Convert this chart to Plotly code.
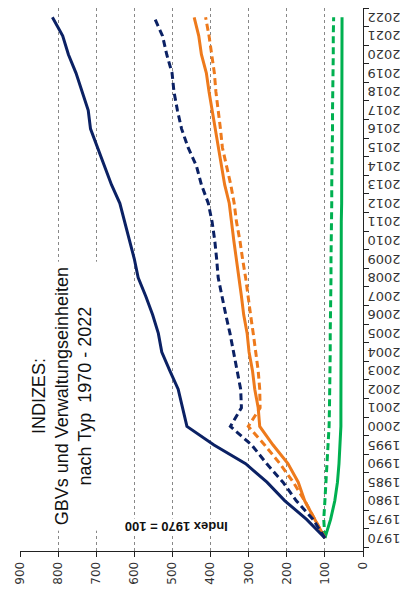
import plotly.graph_objects as go

years = ["1970", "1975", "1980", "1985", "1990", "1995", "2000", "2001", "2002", "2003",
         "2004", "2005", "2006", "2007", "2008", "2009", "2010", "2011", "2012", "2013",
         "2014", "2015", "2016", "2017", "2018", "2019", "2020", "2021", "2022"]

navy_solid = [100, 148, 205, 252, 308, 391, 462, 473, 485, 507, 528, 537, 552, 570, 590,
              600, 612, 625, 638, 660, 679, 697, 715, 721, 738, 753, 773, 788, 815]
navy_dashed = [100, 131, 175, 210, 253, 292, 348, 319, 321, 330, 338, 349, 360, 371, 380,
               384, 389, 396, 406, 424, 437, 459, 476, 487, 496, 501, 515, 526, 548]
orange_solid = [100, 127, 153, 170, 197, 236, 271, 275, 284, 290, 299, 304, 313, 319, 326,
                332, 339, 345, 351, 363, 371, 380, 389, 397, 404, 411, 424, 431, 443]
orange_dashed = [100, 127, 153, 183, 218, 258, 301, 270, 271, 275, 281, 288, 295, 301, 308,
                 316, 323, 332, 338, 347, 358, 369, 374, 380, 386, 390, 397, 404, 413]
green_solid = [100, 85, 74, 67, 63, 60, 58, 58, 58, 58, 57, 57, 57, 57, 57,
               57, 57, 57, 56, 56, 56, 56, 56, 56, 56, 55, 55, 55, 55]
green_dashed = [100, 103, 100, 97, 94, 92, 89, 88, 87, 87, 86, 86, 85, 85, 84,
                84, 83, 83, 82, 82, 81, 81, 80, 80, 79, 79, 78, 78, 77]

value_ticks = [0, 100, 200, 300, 400, 500, 600, 700, 800, 900]

NAVY = "#0B2164"
ORANGE = "#EE7A1C"
GREEN = "#00B050"

series = [
    (green_solid, GREEN, "solid"),
    (green_dashed, GREEN, "7px,4px"),
    (orange_solid, ORANGE, "solid"),
    (orange_dashed, ORANGE, "7px,4px"),
    (navy_dashed, NAVY, "7px,4px"),
    (navy_solid, NAVY, "solid"),
]

fig = go.Figure()
for vals, col, dash in series:
    fig.add_trace(go.Scatter(
        x=vals, y=years, mode="lines",
        line=dict(color=col, width=3, dash=dash),
        showlegend=False, hoverinfo="skip",
    ))

fig.update_layout(
    width=408, height=590,
    margin=dict(l=12, r=53, t=0, b=47),
    paper_bgcolor="white", plot_bgcolor="white",
    font=dict(family="DejaVu Sans", color="#222"),
    xaxis=dict(
        range=[900, 0], tickvals=value_ticks, ticktext=[str(v) for v in value_ticks],
        tickangle=-90, tickfont=dict(size=12, family="DejaVu Sans", color="#333"),
        showgrid=True, gridcolor="#888", griddash="dot", gridwidth=1,
        showline=True, linecolor="#222", linewidth=1,
        ticks="outside", ticklen=5, tickcolor="#222", zeroline=False,
        automargin=False,
    ),
    yaxis=dict(
        type="category", categoryorder="array", categoryarray=years,
        range=[-0.7, 28.5], side="right",
        tickangle=180, tickfont=dict(size=13, family="DejaVu Sans", color="#333"),
        showgrid=False, showline=True, linecolor="#222", linewidth=1,
        ticks="outside", ticklen=5, tickcolor="#222", tickson="boundaries",
        ticklabelstandoff=34, ticklabelshift=4, automargin=False,
    ),
)

fig.add_annotation(
    x=790, y=7.62, xref="x", yref="y",
    text="INDIZES:<br>GBVs und Verwaltungseinheiten<br>nach Typ  1970 - 2022",
    textangle=-90, showarrow=False, align="center",
    font=dict(family="Liberation Sans", size=18, color="#111"),
    bgcolor="white", borderpad=5,
)

fig.add_annotation(
    x=491, y=0.59, xref="x", yref="y",
    text="<b>Index 1970 = 100</b>",
    textangle=180, showarrow=False,
    font=dict(family="Liberation Sans", size=13, color="#111"),
    bgcolor="white", borderpad=0,
)

fig.write_html("out.html")
